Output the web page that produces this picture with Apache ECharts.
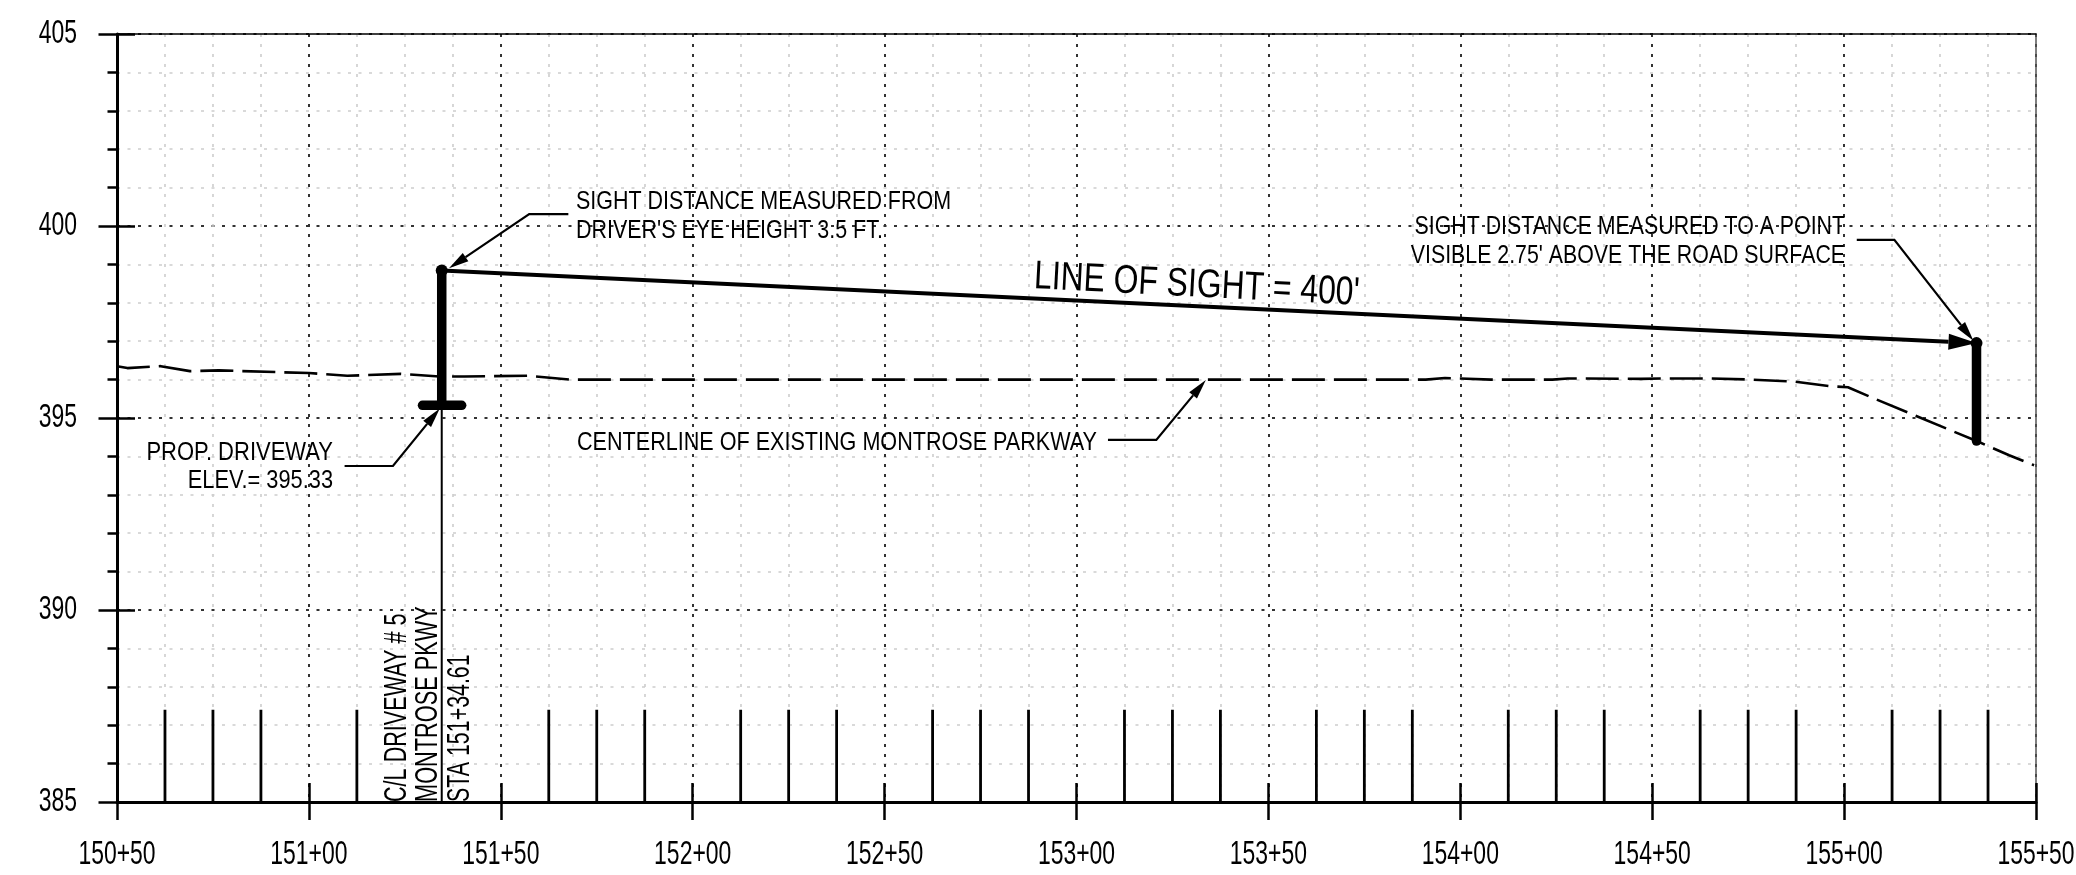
<!DOCTYPE html>
<html>
<head>
<meta charset="utf-8">
<style>html,body{margin:0;padding:0;background:#fff}#c{width:2076px;height:875px}</style>
<script src="https://cdn.jsdelivr.net/npm/echarts@6/dist/echarts.min.js"></script>
</head>
<body>
<div id="c"></div>
<script>
const stationMin = 15050, stationMax = 15550, stationStep = 50;
const elevMin = 385, elevMax = 405, elevStep = 5;
const xTickStations = [15050,15100,15150,15200,15250,15300,15350,15400,15450,15500,15550];
const xTickLabels = ['150+50','151+00','151+50','152+00','152+50','153+00','153+50','154+00','154+50','155+00','155+50'];
const yTickValues = [385,390,395,400,405];
const yTickLabels = ['385','390','395','400','405'];

const centerline = [[15050,396.35],[15052.7,396.3],[15061.4,396.35],[15069,396.22],[15076.5,396.24],[15100,396.17],[15110,396.1],[15124,396.15],[15134,396.08],[15140.5,396.08],[15157,396.1],[15168,396.0],[15391,396.0],[15396,396.04],[15400,396.03],[15408,396.0],[15424,396.0],[15428,396.03],[15447,396.02],[15454,396.03],[15465,396.03],[15476,396.0],[15487,395.95],[15496,395.83],[15501,395.8],[15508,395.5],[15535,394.38],[15543,394.03],[15549.5,393.77]];
const barStations = [15062.5,15075,15087.5,15112.5,15162.5,15175,15187.5,15212.5,15225,15237.5,15262.5,15275,15287.5,15312.5,15325,15337.5,15362.5,15375,15387.5,15412.5,15425,15437.5,15462.5,15475,15487.5,15512.5,15525,15537.5];
const barTop = 387.4;
const driveStation = 15134.61, driveElev = 395.33;
const driveCross = [15129.6,15139.8];
const eyeElev = 398.84;
const targetStation = 15534.5, targetTop = 396.95, targetBottom = 394.4;
const sightLine = [[driveStation,eyeElev],[targetStation,targetTop]];
const eyeLeader = [[15167.6,400.31],[15157.4,400.31],[15136.5,398.9]];
const targetLeader = [[15503.3,399.64],[15513.1,399.64],[15533.7,397.01]];
const centerLeader = [[15308.2,394.43],[15320.8,394.43],[15333.7,395.99]];
const driveLeader = [[15109.3,393.75],[15121.9,393.75],[15134.1,395.25]];

const FONT = '"Liberation Sans",Arial,sans-serif';

function leaderItem(points, width, headLen, headW){
  return function(params, api){
    const pts = points.map(p => api.coord(p));
    const a = pts[pts.length-2], b = pts[pts.length-1];
    const dx=b[0]-a[0], dy=b[1]-a[1], L=Math.hypot(dx,dy), ux=dx/L, uy=dy/L;
    const base=[b[0]-ux*headLen,b[1]-uy*headLen];
    const linePts=pts.slice(0,-1).concat([base]);
    return {type:'group',children:[
      {type:'polyline',shape:{points:linePts},style:{fill:null,stroke:'#000',lineWidth:width}},
      {type:'polygon',shape:{points:[b,[base[0]-uy*headW/2,base[1]+ux*headW/2],[base[0]+uy*headW/2,base[1]-ux*headW/2]]},style:{fill:'#000'}}
    ]};
  };
}
function leader(points,width,headLen,headW){
  return {type:'custom',clip:false,silent:true,z:6,data:[[points[0][0],points[0][1]]],renderItem:leaderItem(points,width,headLen,headW)};
}
function seg(data,width,cap){
  return {type:'line',data,symbol:'none',silent:true,z:5,clip:false,lineStyle:{color:'#000',width,cap:cap||'butt'}};
}
function txt(text,x,y,size,align,scaleX,extra){
  return Object.assign({type:'text',x,y,scaleX:scaleX,silent:true,z:10,style:{text,font:size+'px '+FONT,fill:'#000',textAlign:align||'left',textVerticalAlign:'middle'}},extra||{});
}
function tickLabel(text,pt,align){
  return {type:'text',x:pt[0],y:pt[1],scaleX:0.695,style:{text,font:'33px '+FONT,fill:'#000',textAlign:align,textVerticalAlign:'middle'}};
}

const barData=[];
barStations.forEach(s=>{barData.push([s,elevMin],[s,barTop],[s,null]);});

const chart = echarts.init(document.getElementById('c'),null,{renderer:'canvas'});
const xBase={type:'value',min:stationMin,max:stationMax,interval:stationStep,axisLabel:{show:false},axisTick:{show:false},axisLine:{show:false},splitLine:{show:false}};
const yBase={type:'value',min:elevMin,max:elevMax,interval:elevStep,axisLabel:{show:false},axisTick:{show:false},axisLine:{show:false},splitLine:{show:false}};
chart.setOption({
  animation:false,
  backgroundColor:'#fff',
  grid:{left:117,right:40,top:34,bottom:73,containLabel:false,outerBoundsMode:'none'},
  xAxis:[
    Object.assign({},xBase,{position:'bottom',
      axisLine:{show:true,onZero:false,lineStyle:{color:'#000',width:3}},
      axisTick:{show:true,length:18,lineStyle:{color:'#000',width:2.5}},
      splitLine:{show:true,lineStyle:{color:'#333',width:2,type:[3,7]}},
      minorTick:{show:false,splitNumber:4},
      minorSplitLine:{show:true,lineStyle:{color:'#cdcdcd',width:1.6,type:[3,7]}}}),
    Object.assign({},xBase,{position:'bottom',axisTick:{show:true,inside:true,length:19,lineStyle:{color:'#000',width:2.5}}}),
    Object.assign({},xBase,{position:'top',axisLine:{show:true,onZero:false,lineStyle:{color:'#000',width:1.5}}})
  ],
  yAxis:[
    Object.assign({},yBase,{position:'left',
      axisLine:{show:true,onZero:false,lineStyle:{color:'#000',width:3}},
      axisTick:{show:true,length:18.5,lineStyle:{color:'#000',width:2.5}},
      minorTick:{show:true,splitNumber:5,length:9.5,lineStyle:{color:'#000',width:2.5}},
      splitLine:{show:true,lineStyle:{color:'#333',width:2,type:[3,7.5]}},
      minorSplitLine:{show:true,lineStyle:{color:'#cdcdcd',width:1.6,type:[3,7.5]}}}),
    Object.assign({},yBase,{position:'left',axisTick:{show:true,inside:true,length:18,lineStyle:{color:'#000',width:2.5}}}),
    Object.assign({},yBase,{position:'right',axisLine:{show:true,onZero:false,lineStyle:{color:'#555',width:1.5}}})
  ],
  series:[
    {type:'custom',clip:false,silent:true,z:8,data:xTickStations.map((s,i)=>[s,i]),
      renderItem:(p,api)=>{const c=api.coord([api.value(0),elevMin]);return tickLabel(xTickLabels[api.value(1)],[c[0],c[1]+53],'center');}},
    {type:'custom',clip:false,silent:true,z:8,data:yTickValues.map((v,i)=>[stationMin,v,i]),
      renderItem:(p,api)=>{const c=api.coord([api.value(0),api.value(1)]);return tickLabel(yTickLabels[api.value(2)],[c[0]-40,c[1]],'right');}},
    {type:'line',data:barData,symbol:'none',silent:true,z:4,lineStyle:{color:'#000',width:2.8}},
    {type:'line',data:centerline,symbol:'none',silent:true,z:4,lineStyle:{color:'#000',width:2.6,type:[33,9]}},
    seg([[driveStation,elevMin],[driveStation,driveElev]],2),
    seg([[driveStation,driveElev],[driveStation,eyeElev]],9.5),
    seg([[driveCross[0],driveElev],[driveCross[1],driveElev]],9.5,'round'),
    seg([[targetStation,targetBottom],[targetStation,targetTop]],9.5,'round'),
    {type:'scatter',data:[[driveStation,eyeElev],[targetStation,targetTop]],symbol:'circle',symbolSize:12,silent:true,z:6,itemStyle:{color:'#000',opacity:1}},
    leader(sightLine,4,28,16),
    leader(eyeLeader,2.2,20,10),
    leader(targetLeader,2.2,20,10),
    leader(centerLeader,2.2,20,10),
    leader(driveLeader,2.2,20,10)
  ],
  graphic:{elements:[
    txt('SIGHT DISTANCE MEASURED FROM',576,201.5,26,'left',0.825),
    txt("DRIVER'S EYE HEIGHT 3.5 FT.",576,230.5,26,'left',0.825),
    txt('SIGHT DISTANCE MEASURED TO A POINT',1845,227,26,'right',0.82),
    txt("VISIBLE 2.75' ABOVE THE ROAD SURFACE",1845,256,26,'right',0.82),
    txt('CENTERLINE OF EXISTING MONTROSE PARKWAY',577,442.5,26,'left',0.83),
    txt('PROP. DRIVEWAY',333,452.5,26,'right',0.846),
    txt('ELEV.= 395.33',333,481,26,'right',0.838),
    txt("LINE OF SIGHT = 400'",1034,277,40,'left',0.797,{rotation:-0.052}),
    txt('C/L DRIVEWAY # 5',397.5,802,31,'left',0.697,{rotation:Math.PI/2}),
    txt('MONTROSE PKWY',428,802,31,'left',0.702,{rotation:Math.PI/2}),
    txt('STA 151+34.61',460,802,31,'left',0.69,{rotation:Math.PI/2})
  ]}
});
</script>
</body>
</html>
